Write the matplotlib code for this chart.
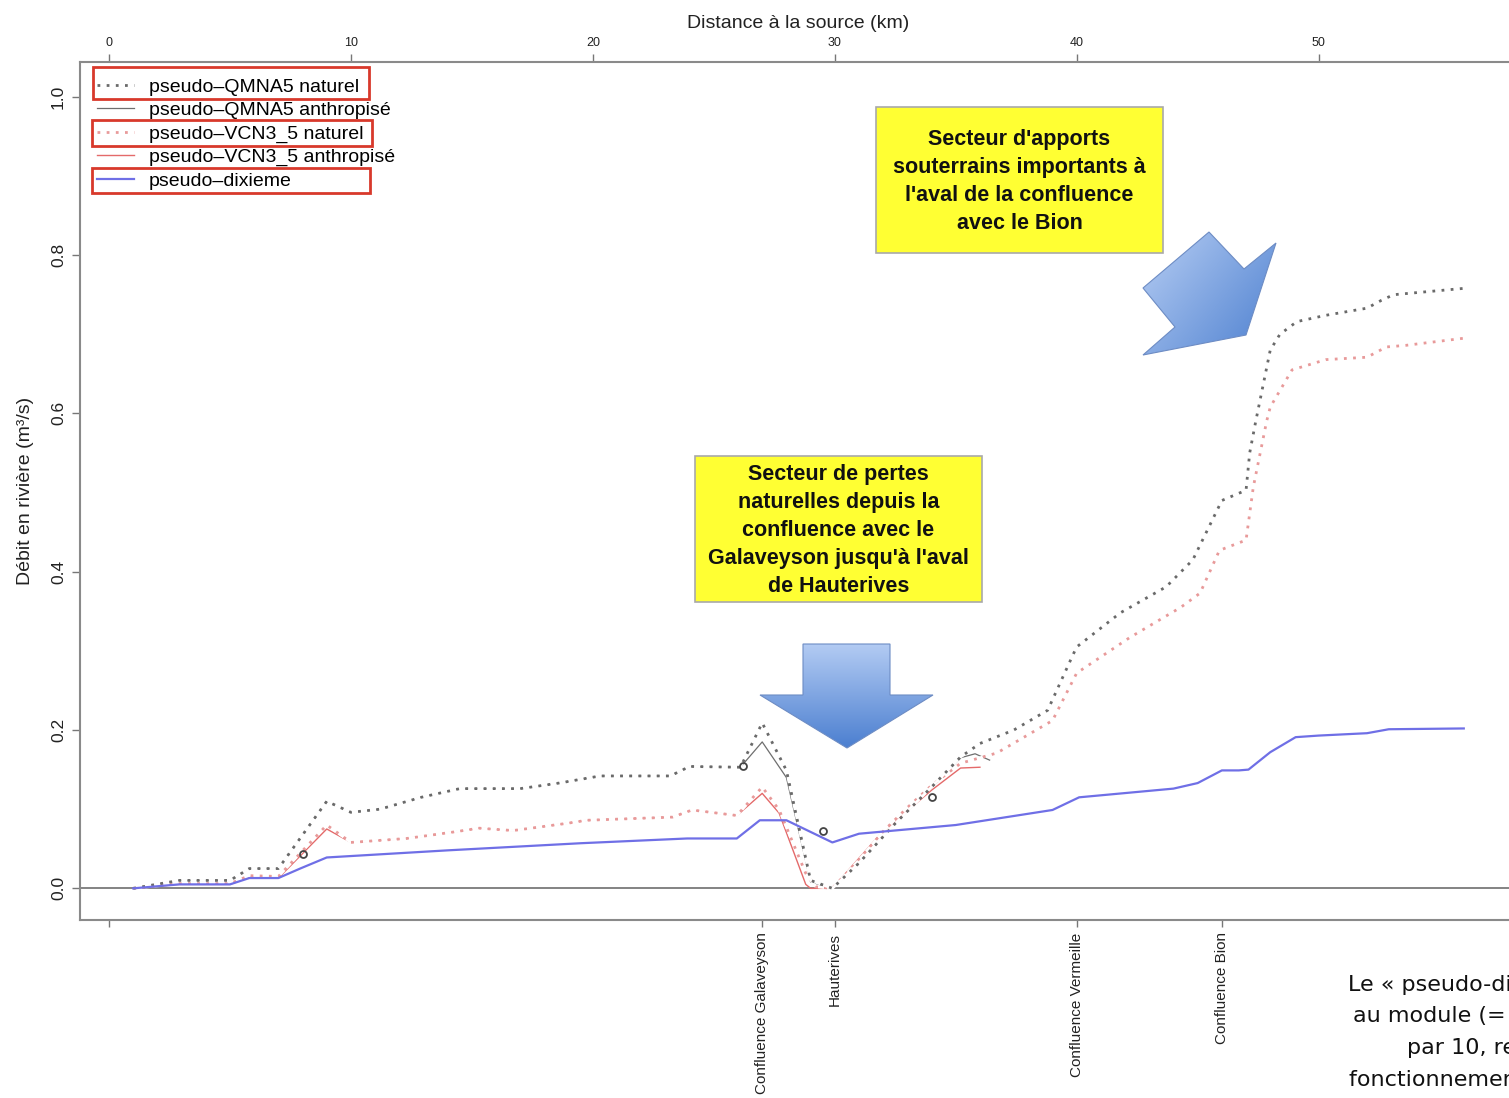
import numpy as np
import matplotlib
matplotlib.use('Agg')
import matplotlib.pyplot as plt
from matplotlib.patches import Polygon, Rectangle
from matplotlib.colors import LinearSegmentedColormap

plt.rcParams['font.family'] = ['Liberation Sans', 'DejaVu Sans']

# Débits d'étiage le long du cours d'eau (km depuis la source, m3/s)
km_qmna5_nat = [1.0, 2.9, 5.0, 5.8, 7.0, 9.0, 10.0, 11.2, 12.9, 14.5, 17.0, 18.6, 20.3, 23.2,
                24.0, 26.1, 27.0, 28.0, 29.0, 29.9, 31.0, 32.5, 34.0, 35.2, 36.0, 37.4, 38.8,
                39.8, 40.0, 41.8, 43.7, 44.8, 45.6, 46.0, 47.0, 47.15, 47.4, 48.0, 48.4, 49.1,
                50.3, 52.0, 52.6, 53.1, 56.0]
qmna5_nat = [0.0, 0.010, 0.010, 0.025, 0.025, 0.110, 0.096, 0.100, 0.115, 0.126, 0.126, 0.133,
             0.142, 0.142, 0.154, 0.153, 0.209, 0.149, 0.010, 0.0, 0.032, 0.082, 0.128, 0.166,
             0.183, 0.200, 0.225, 0.292, 0.305, 0.348, 0.381, 0.415, 0.465, 0.490, 0.503, 0.550,
             0.590, 0.680, 0.700, 0.716, 0.724, 0.733, 0.743, 0.750, 0.758]

km_qmna5_anth = [1.0, 2.9, 5.0, 5.8, 7.0, 9.0, 10.0, 11.2, 12.9, 14.5, 17.0, 18.6, 20.3, 23.2,
                 24.0, 26.1, 27.0, 28.0, 29.0, 29.9, 31.0, 32.5, 34.0, 35.2, 35.8, 36.4]
qmna5_anth = [0.0, 0.010, 0.010, 0.025, 0.025, 0.110, 0.096, 0.100, 0.115, 0.126, 0.126, 0.133,
              0.142, 0.142, 0.154, 0.153, 0.185, 0.140, 0.008, 0.0, 0.032, 0.082, 0.127, 0.165,
              0.170, 0.162]

km_vcn_nat = [1.0, 2.9, 5.0, 5.8, 7.0, 9.0, 10.0, 12.3, 14.2, 15.3, 16.7, 18.9, 19.75, 23.3,
              24.1, 25.95, 27.0, 27.7, 28.8, 29.2, 29.9, 31.0, 32.0, 33.0, 34.0, 35.2, 36.7,
              39.0, 40.0, 42.2, 44.3, 45.1, 45.9, 47.0, 47.3, 47.85, 48.0, 48.9, 50.3, 52.0,
              52.8, 53.6, 56.0]
vcn_nat = [0.0, 0.006, 0.006, 0.016, 0.015, 0.080, 0.058, 0.063, 0.071, 0.076, 0.073, 0.082,
           0.086, 0.090, 0.099, 0.092, 0.128, 0.099, 0.019, 0.002, 0.0, 0.036, 0.072, 0.102,
           0.130, 0.158, 0.171, 0.212, 0.272, 0.317, 0.355, 0.373, 0.427, 0.440, 0.507, 0.590,
           0.608, 0.655, 0.668, 0.671, 0.684, 0.686, 0.695]

km_vcn_anth = [1.0, 2.9, 5.0, 5.8, 7.0, 9.0, 10.0, 12.3, 14.2, 15.3, 16.7, 18.9, 19.75, 23.3,
               24.1, 25.95, 27.0, 27.7, 28.8, 29.0, 29.9, 31.0, 31.9, 33.0, 34.0, 35.2, 36.0]
vcn_anth = [0.0, 0.005, 0.005, 0.014, 0.013, 0.075, 0.058, 0.063, 0.071, 0.076, 0.073, 0.082,
            0.086, 0.090, 0.099, 0.092, 0.120, 0.095, 0.005, 0.0, 0.0, 0.038, 0.069, 0.098,
            0.124, 0.152, 0.153]

km_dix = [1.0, 2.9, 5.0, 5.8, 7.0, 7.9, 9.0, 14.0, 19.5, 23.9, 25.95, 26.9, 28.0, 29.9, 31.0,
          35.0, 39.0, 40.1, 44.0, 45.0, 46.0, 46.7, 47.1, 48.0, 49.05, 50.0, 52.0, 52.9, 56.0]
dixieme = [0.0, 0.005, 0.005, 0.013, 0.013, 0.025, 0.039, 0.048, 0.057, 0.063, 0.063, 0.086,
           0.086, 0.058, 0.069, 0.080, 0.099, 0.115, 0.126, 0.133, 0.149, 0.149, 0.150, 0.172,
           0.191, 0.193, 0.196, 0.201, 0.202]

# points isolés (cercles)
km_pts = [8.0, 26.2, 29.5, 34.0]
q_pts = [0.044, 0.155, 0.073, 0.116]

# repères sur l'axe du bas
km_sites = [0, 27.0, 30.0, 40.0, 46.0]
sites = ['', 'Confluence Galaveyson', 'Hauterives', 'Confluence Vermeille', 'Confluence Bion']

W, H = 1509, 1098
fig = plt.figure(figsize=(W / 100, H / 100), dpi=100)
ax = fig.add_axes([80 / W, 1 - 920 / H, (1517 - 80) / W, (920 - 62) / H])

l_anth_q, = ax.plot(km_qmna5_anth, qmna5_anth, color='#6e6e6e', lw=0.9, zorder=2)
l_anth_v, = ax.plot(km_vcn_anth, vcn_anth, color='#e46a6a', lw=1.0, zorder=2)
# pointillés à fond blanc : le tracé anthropisé confondu reste masqué
l_nat_v, = ax.plot(km_vcn_nat, vcn_nat, color='#e89a9a', lw=2.0, ls=(0, (1, 2.3)),
                   gapcolor='white', zorder=3)
l_nat_q, = ax.plot(km_qmna5_nat, qmna5_nat, color='#6a6a6a', lw=2.0, ls=(0, (1, 2.3)),
                   gapcolor='white', zorder=3)
l_dix, = ax.plot(km_dix, dixieme, color='#6f6fe6', lw=1.6, zorder=4)
ax.plot(km_pts, q_pts, 'o', mfc='none', mec='#444444', ms=5, mew=1.3, zorder=5)

ax.axhline(0, color='#7a7a7a', lw=1.3, zorder=1)

ax.set_xlim(-1.2, 58.2)
ax.set_ylim(-0.04, 1.044)
for s in ['left', 'top', 'bottom']:
    ax.spines[s].set_color('#8a8a8a')
    ax.spines[s].set_linewidth(1.5)
ax.spines['right'].set_visible(False)

ax.set_xticks(km_sites)
ax.set_xticklabels(sites, rotation=90, fontsize=11, va='top', ha='center')
ax.tick_params(axis='x', colors='#777777', length=5, width=1, labelcolor='#222222', pad=4)

ax.set_yticks([0.0, 0.2, 0.4, 0.6, 0.8, 1.0])
ax.set_yticklabels(['0.0', '0.2', '0.4', '0.6', '0.8', '1.0'], rotation=90, va='center',
                   fontsize=12.5)
ax.tick_params(axis='y', colors='#777777', length=6, width=1, labelcolor='#222222', pad=4)
ax.set_ylabel('Débit en rivière (m³/s)', fontsize=14, color='#222222', labelpad=12)

top = ax.secondary_xaxis('top')
top.set_xticks([0, 10, 20, 30, 40, 50])
top.tick_params(colors='#777777', length=6, width=1, labelcolor='#222222', labelsize=9, pad=3)
top.spines['top'].set_visible(False)
top.set_xlabel('Distance à la source (km)', fontsize=14, color='#222222', labelpad=7)

ax.legend([l_nat_q, l_anth_q, l_nat_v, l_anth_v, l_dix],
          ['pseudo\u2013QMNA5 naturel', 'pseudo\u2013QMNA5 anthropisé',
           'pseudo\u2013VCN3_5 naturel', 'pseudo\u2013VCN3_5 anthropisé', 'pseudo\u2013dixieme'],
          loc='upper left', bbox_to_anchor=(97 / W, 1 - 78 / H), bbox_transform=fig.transFigure,
          frameon=False, fontsize=14, handlelength=1.9, handletextpad=0.78,
          labelspacing=0.3, borderpad=0, borderaxespad=0)

# couche d'annotations en pixels
ov = fig.add_axes([0, 0, 1, 1], zorder=10)
ov.set_xlim(0, W)
ov.set_ylim(H, 0)
ov.axis('off')

for (x0, y0, x1, y1) in [(93, 67, 369, 99), (92, 120, 372, 146), (92, 168, 370, 193)]:
    ov.add_patch(Rectangle((x0, y0), x1 - x0, y1 - y0, fill=False, edgecolor='#d8392b', lw=2))


def yellow_box(x0, y0, x1, y1, text):
    ov.add_patch(Rectangle((x0, y0), x1 - x0, y1 - y0, facecolor='#ffff33',
                           edgecolor='#a9a9a9', lw=1.2))
    ov.text((x0 + x1) / 2, (y0 + y1) / 2 + 1.5, text, ha='center', va='center',
            fontsize=15.5, fontweight='bold', linespacing=1.44, color='#111111')


yellow_box(876, 107, 1163, 253,
           "Secteur d'apports\nsouterrains importants à\nl'aval de la confluence\navec le Bion")
yellow_box(695, 456, 982, 602,
           "Secteur de pertes\nnaturelles depuis la\nconfluence avec le\nGalaveyson jusqu'à l'aval\nde Hauterives")


def gradient_arrow(verts, c0, c1, direction):
    poly = Polygon(verts, closed=True, facecolor='none', edgecolor='#6d8cc4', lw=0.8, zorder=3)
    ov.add_patch(poly)
    xs = [v[0] for v in verts]
    ys = [v[1] for v in verts]
    gx, gy = np.meshgrid(np.linspace(0, 1, 200), np.linspace(0, 1, 200))
    t = gx * direction[0] + gy * direction[1]
    t = (t - t.min()) / (t.max() - t.min())
    cmap = LinearSegmentedColormap.from_list('arrow', [c0, c1])
    im = ov.imshow(t, cmap=cmap, extent=(min(xs), max(xs), max(ys), min(ys)),
                   origin='upper', aspect='auto', zorder=2, interpolation='bilinear')
    im.set_clip_path(poly)


gradient_arrow([(803, 644), (890, 644), (890, 695), (933, 695), (847, 748), (760, 695),
                (803, 695)], '#b3cbf3', '#4b7fd0', (0, 1))
gradient_arrow([(1143, 288), (1209, 232), (1244, 269), (1276, 243), (1246, 335), (1143, 355),
                (1175, 327)], '#b6cdf3', '#4d80d0', (0.8, 0.6))
ov.set_xlim(0, W)
ov.set_ylim(H, 0)

note = ['Le « pseudo-dixième » correspond', 'au module (= débit moyen) divisé',
        'par 10, représentatif du', 'fonctionnement naturel']
for line, (x, y) in zip(note, [(1348, 984), (1353, 1015), (1407, 1047), (1349, 1080)]):
    ov.text(x, y, line, ha='left', va='center', fontsize=16, family='DejaVu Sans',
            color='#111111')

fig.savefig('out.png', dpi=100)
